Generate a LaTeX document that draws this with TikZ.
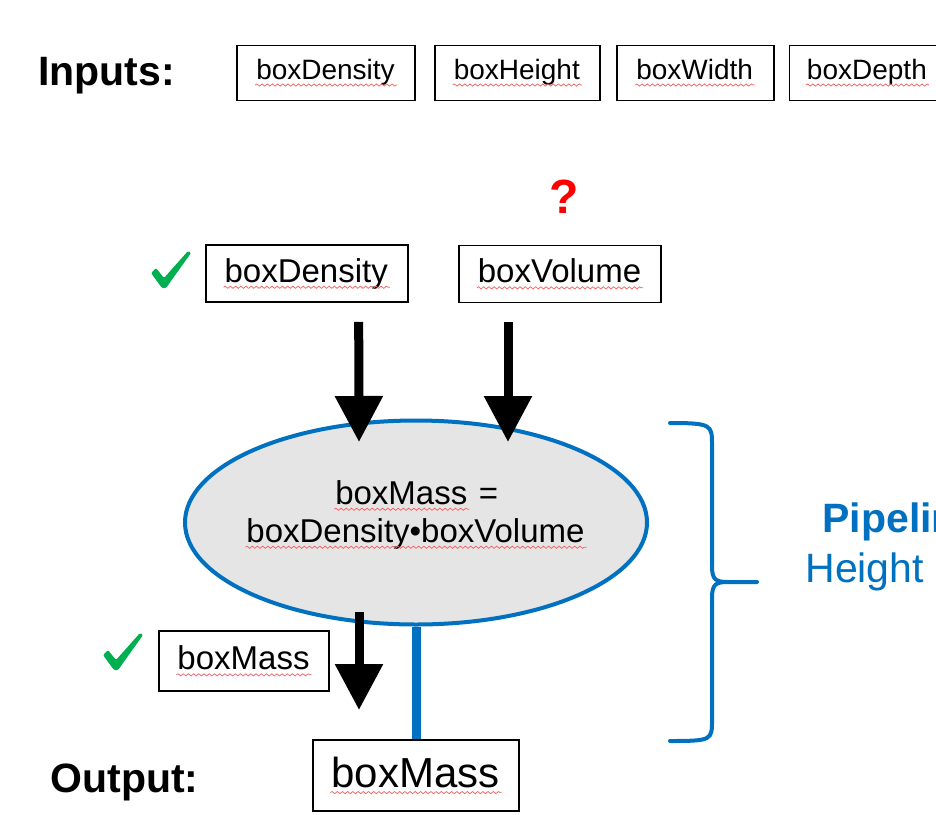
\documentclass[tikz,border=0pt]{standalone}
\usepackage{fontspec}
\setmainfont{Liberation Sans}
\usetikzlibrary{arrows.meta,positioning,shapes.geometric,decorations.pathmorphing}
\definecolor{office}{RGB}{0,112,192}
\definecolor{okgreen}{RGB}{0,176,80}
\definecolor{spellred}{RGB}{245,95,95}
\definecolor{bubble}{RGB}{229,229,229}
% red spell-check squiggle under a word
\newcommand\spell[1]{\tikz[baseline=(sp.base)]{%
  \node[shape=rectangle,draw=none,fill=none,inner sep=0pt,outer sep=0pt,
    minimum width=0pt,minimum height=0pt,text=black,anchor=base] (sp) at (0,0) {#1};
  \draw[spellred,line width=0.35pt,decorate,decoration={snake,amplitude=0.55pt,segment length=2.6pt}]
    ([xshift=-0.5pt,yshift=-2.6pt]sp.base west) -- ([xshift=1pt,yshift=-2.6pt]sp.base east);}}
\tikzset{
  >={Triangle[length=23pt,width=23pt]},
  var/.style={draw,line width=0.9pt,minimum height=27.5pt,inner sep=0pt,
    font=\fontsize{14}{17}\selectfont},
  var mid/.style={var,minimum height=28.5pt,font=\fontsize{16.5}{19}\selectfont},
  fat arrow/.style={->,line width=4.5pt},
  proc/.style={ellipse,draw=office,line width=2pt,fill=bubble,
    minimum width=231pt,minimum height=102pt,inner sep=0pt},
  brace/.style={draw=office,line width=2pt,line cap=round},
  heading/.style={inner sep=0pt,anchor=base west,font=\fontsize{20.5}{24}\selectfont\bfseries},
  side note/.style={inner sep=0pt,anchor=base west,text=office,font=\fontsize{20.5}{24}\selectfont},
  % pictograms
  pics/tick/.style={code={
    \fill[#1,rounded corners=0.6pt] (0,22) -- (5,17) -- (13,27) -- (37,0) -- (40,2) -- (15,37) -- (11,37) -- cycle;
  }},
  pics/tick/.default=okgreen,
}
\begin{document}
\begin{tikzpicture}[x=0.5pt,y=-0.5pt]
  \useasboundingbox (0,0) rectangle (936,814);
  \clip (0,0) rectangle (936,814);
  \fill[white] (0,0) rectangle (936,814);
  % inputs row
  \node[heading] (inlabel) at (38,85) {Inputs:};
  \node[var,minimum width=89pt] (inDens) at (326,73) {\spell{boxDensity}};
  \node[var,minimum width=82.5pt,right=9pt of inDens] (inHeight) {\spell{boxHeight}};
  \node[var,minimum width=78.5pt,right=7.5pt of inHeight] (inWidth) {\spell{boxWidth}};
  \node[var,minimum width=78pt,right=7pt of inWidth] (inDepth) {\spell{boxDepth}};
  % step inputs
  \node[font=\fontsize{24}{28}\selectfont\bfseries,text=red,anchor=base,inner sep=0pt] (unknown) at (564,213) {?};
  \pic at (151,251) {tick};
  \node[var mid,minimum width=101pt] (dens) at (306.7,273.5) {\spell{boxDensity}};
  \node[var mid,minimum width=101pt] (vol) at (560,274) {\spell{boxVolume}};
  \node[proc] (calc) at (416,522.5) {};
  \node[align=center,inner sep=0pt,font=\fontsize{16.5}{19}\selectfont] (formula) at ([yshift=4pt]calc.center)
    {\spell{boxMass} =\\\spell{boxDensity•boxVolume}};
  \coordinate (dropD) at (359,442);
  \coordinate (dropV) at (508,442);
  \coordinate (dropM) at (359,710);
  \draw[fat arrow] ([xshift=26pt,yshift=-9.5pt]dens.south) -- (dropD);
  \draw[fat arrow] ([xshift=-26pt,yshift=-9.5pt]vol.south) -- (dropV);
  \draw[fat arrow] ([xshift=-28.5pt,yshift=7.25pt]calc.south) -- (dropM);
  \pic at (103,633) {tick};
  \node[var mid,minimum width=85pt,minimum height=30pt] (mass) at (244,661) {\spell{boxMass}};
  % output
  \node[heading] (outlabel) at (50,792) {Output:};
  \node[var,minimum width=103pt,minimum height=35.5pt,font=\fontsize{21}{25}\selectfont] (outMass) at (416,775.5) {\spell{boxMass}};
  \draw[office,line width=4.5pt] (calc.south) -- (outMass.north);
  % pipeline brace
  \draw[brace] (670,423) .. controls (712,423) and (712,425) .. (712,445) -- (712,566)
    .. controls (712,580) and (716,582) .. (728,582) -- (757,582)
    (728,582) .. controls (716,582) and (712,584) .. (712,598) -- (712,720)
    .. controls (712,740) and (712,741) .. (670,741);
  \node[side note,font=\fontsize{20.5}{24}\selectfont\bfseries] (pipe) at (822,532) {Pipeline};
  \node[side note] (height) at (805,582) {Height};
\end{tikzpicture}
\end{document}
